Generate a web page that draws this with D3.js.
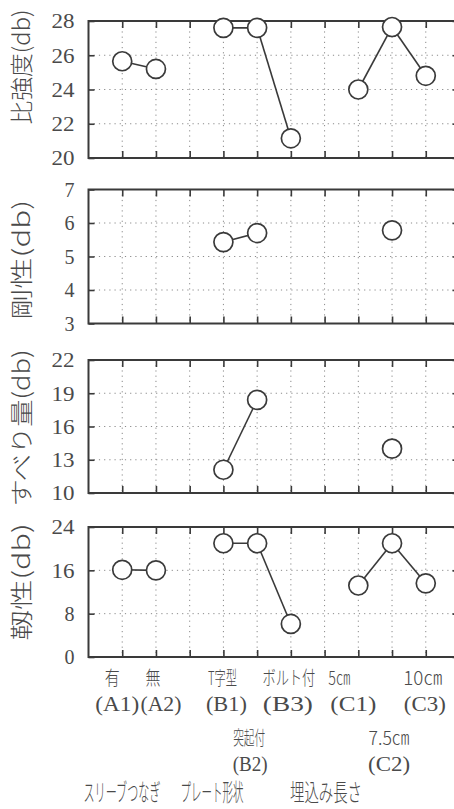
<!DOCTYPE html>
<html>
<head>
<meta charset="utf-8">
<script src="https://cdn.jsdelivr.net/npm/d3@7/dist/d3.min.js"></script>
<style>
  body { margin: 0; background: #fff; }
  svg { display: block; }
</style>
</head>
<body>
<script>
// ---- data ----
const categories = ["A1", "A2", "", "B1", "B2", "B3", "", "C1", "C2", "C3"];
const groups     = ["A",  "A",  null, "B", "B", "B", null, "C", "C", "C"];

const strength  = [25.65, 25.2, null, 27.6, 27.6, 21.15, null, 24.0, 27.65, 24.8];
const stiffness = [null, null, null, 5.43, 5.7, null, null, null, 5.78, null];
const slip      = [null, null, null, 12.1, 18.4, null, null, null, 14.0, null];
const toughness = [16.1, 16.0, null, 21.0, 21.0, 6.1, null, 13.2, 21.0, 13.6];

const strengthTicks  = [20, 22, 24, 26, 28];
const stiffnessTicks = [3, 4, 5, 6, 7];
const slipTicks      = [10, 13, 16, 19, 22];
const toughnessTicks = [0, 8, 16, 24];

const panelTitles = ["比強度(db)", "剛性(db)", "すべり量(db)", "靱性(db)"];

const levelNames  = ["有", "無", "", "T字型", "突起付", "ボルト付", "", "5㎝", "7.5㎝", "10㎝"];
const levelCodes  = ["(A1)", "(A2)", "", "(B1)", "(B2)", "(B3)", "", "(C1)", "(C2)", "(C3)"];
const factorNames = ["スリーブつなぎ", "プレート形状", "埋込み長さ"];

// ---- layout ----
const W = 454, H = 809;
const left = 88.5, right = 459.5;
const panelBox = [
  { top: 21,    bottom: 158,   titleY: 67,  titleLen: 115 },
  { top: 189.5, bottom: 323.5, titleY: 260, titleLen: 120 },
  { top: 360,   bottom: 493,   titleY: 428, titleLen: 157 },
  { top: 527,   bottom: 657,   titleY: 582, titleLen: 117 }
];
const series = [strength, stiffness, slip, toughness];
const yTicks = [strengthTicks, stiffnessTicks, slipTicks, toughnessTicks];

// label placement below the bottom panel
const nameDx   = [-10, -3, 0, -1, -8, -2, 0, -19, -3, -3];
const codeDx   = [-5, 5, 0, 3, -7, -3, 0, -5, -3, -1];
const nameLen  = [15, 15, 0, 29, 32, 53, 0, 22, 41, 39];
const codeLen  = [44, 41, 0, 41, 35, 50, 0, 46, 42, 42];
const lowerRow = [false, false, false, false, true, false, false, false, true, false];
const factorX  = [122, 212, 326];
const factorLen = [77, 63, 72];

const ink = "#3a3a3a";
const textInk = "#4a4a4a";
const jpFont = "'Noto Sans CJK JP', 'Noto Sans CJK SC', sans-serif";
const numFont = "'Liberation Serif', 'DejaVu Serif', serif";

const svg = d3.select("body").append("svg")
  .attr("width", W).attr("height", H);

const x = d3.scaleLinear().domain([0, categories.length + 1]).range([left, right]);
const xTickVals = d3.range(1, categories.length + 1);

// place a centred text and squeeze it horizontally to a given width
function fitText(parent, str, cx, baseY, width, font, size, weight) {
  const t = parent.append("text")
    .attr("text-anchor", "middle")
    .attr("font-family", font)
    .attr("font-size", size)
    .attr("font-weight", weight)
    .attr("fill", textInk)
    .text(str);
  const natural = t.node().getComputedTextLength() || width;
  t.attr("transform", `translate(${cx},${baseY}) scale(${width / natural},1)`);
  return t;
}

panelBox.forEach((box, p) => {
  const ticks = yTicks[p];
  const y = d3.scaleLinear()
    .domain([d3.min(ticks), d3.max(ticks)])
    .range([box.bottom, box.top]);
  const g = svg.append("g");

  // dotted grid
  g.append("g").selectAll("line").data(xTickVals).join("line")
    .attr("x1", d => x(d)).attr("x2", d => x(d))
    .attr("y1", box.top).attr("y2", box.bottom)
    .attr("stroke", "#8a8a8a").attr("stroke-width", 1)
    .attr("stroke-dasharray", "1.2,4");
  g.append("g").selectAll("line").data(ticks.slice(1, -1)).join("line")
    .attr("x1", left).attr("x2", right)
    .attr("y1", d => y(d)).attr("y2", d => y(d))
    .attr("stroke", "#8a8a8a").attr("stroke-width", 1)
    .attr("stroke-dasharray", "1.2,4");

  // inward ticks on all four sides
  const styleAxis = sel => {
    sel.select(".domain").remove();
    sel.selectAll(".tick line").attr("stroke", ink).attr("stroke-width", 1.6);
  };
  g.append("g").attr("transform", `translate(0,${box.bottom})`)
    .call(d3.axisBottom(x).tickValues(xTickVals).tickSize(-7).tickFormat(""))
    .call(styleAxis);
  g.append("g").attr("transform", `translate(0,${box.top})`)
    .call(d3.axisTop(x).tickValues(xTickVals).tickSize(-7).tickFormat(""))
    .call(styleAxis);
  g.append("g").attr("transform", `translate(${right},0)`)
    .call(d3.axisRight(y).tickValues(ticks).tickSize(-7).tickFormat(""))
    .call(styleAxis);
  const yAxis = g.append("g").attr("transform", `translate(${left},0)`)
    .call(d3.axisLeft(y).tickValues(ticks).tickSize(-6).tickPadding(14).tickFormat(d3.format("d")))
    .call(styleAxis);
  yAxis.attr("font-family", numFont).attr("font-size", 20);
  yAxis.selectAll(".tick text")
    .attr("fill", textInk)
    .attr("dy", "0.34em")
    .each(function (d) {
      const s = String(d);
      if (s.length > 1) d3.select(this).attr("textLength", 23).attr("lengthAdjust", "spacingAndGlyphs");
    });

  // frame
  g.append("rect")
    .attr("x", left).attr("y", box.top)
    .attr("width", right - left).attr("height", box.bottom - box.top)
    .attr("fill", "none").attr("stroke", ink).attr("stroke-width", 2);

  // panel title
  svg.append("text")
    .attr("transform", `translate(22,${box.titleY}) rotate(-90)`)
    .attr("text-anchor", "middle")
    .attr("dy", "0.36em")
    .attr("font-family", jpFont)
    .attr("font-weight", 300)
    .attr("font-size", 23)
    .attr("fill", textInk)
    .attr("textLength", box.titleLen)
    .attr("lengthAdjust", "spacingAndGlyphs")
    .text(panelTitles[p]);

  // connecting lines within each factor group
  const vals = series[p];
  const segs = [];
  for (let i = 0; i < vals.length - 1; i++) {
    if (vals[i] != null && vals[i + 1] != null && groups[i] && groups[i] === groups[i + 1]) {
      segs.push([i, i + 1]);
    }
  }
  g.append("g").selectAll("line").data(segs).join("line")
    .attr("x1", d => x(d[0] + 1)).attr("y1", d => y(vals[d[0]]))
    .attr("x2", d => x(d[1] + 1)).attr("y2", d => y(vals[d[1]]))
    .attr("stroke", ink).attr("stroke-width", 1.6);

  // markers
  const pts = vals.map((v, i) => ({ i, v })).filter(d => d.v != null);
  g.append("g").selectAll("circle").data(pts).join("circle")
    .attr("cx", d => x(d.i + 1)).attr("cy", d => y(d.v))
    .attr("r", 9.5)
    .attr("fill", "#fff").attr("stroke", ink).attr("stroke-width", 1.7);
});

// level labels under the bottom panel
const lab = svg.append("g");

categories.forEach((c, i) => {
  if (!c) return;
  const low = lowerRow[i];
  fitText(lab, levelNames[i], x(i + 1) + nameDx[i], low ? 745 : 685,
          nameLen[i], jpFont, 19, 300);
  fitText(lab, levelCodes[i], x(i + 1) + codeDx[i], low ? 771 : 711,
          codeLen[i], numFont, 22, 400);
});

factorNames.forEach((f, k) => {
  fitText(lab, f, factorX[k], 801, factorLen[k], jpFont, 24, 300);
});
</script>
</body>
</html>
